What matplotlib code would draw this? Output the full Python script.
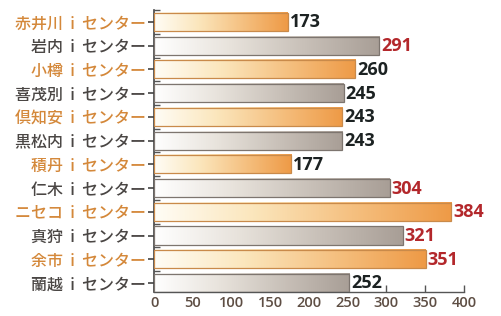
import numpy as np
import matplotlib
matplotlib.use("Agg")
import matplotlib.pyplot as plt
from matplotlib.colors import LinearSegmentedColormap
from matplotlib.ticker import FixedLocator

plt.rcParams['font.family'] = ['Noto Sans CJK JP', 'DejaVu Sans']

categories = ["赤井川  i  センター", "岩内  i  センター", "小樽  i  センター", "喜茂別  i  センター",
              "倶知安  i  センター", "黒松内  i  センター", "積丹  i  センター", "仁木  i  センター",
              "ニセコ  i  センター", "真狩  i  センター", "余市  i  センター", "蘭越  i  センター"]
values = [173, 291, 260, 245, 243, 243, 177, 304, 384, 321, 351, 252]
highlight = [True, False, True, False, True, False, True, False, True, False, True, False]
xticks = [0, 50, 100, 150, 200, 250, 300, 350, 400]

orange_cmap = LinearSegmentedColormap.from_list(
    "o", ["#fffdf6", "#fbe6bc", "#f5c080", "#ee9a46"])
grey_cmap = LinearSegmentedColormap.from_list(
    "g", ["#ffffff", "#e8e3dc", "#c8c0b8", "#a89e96"])

fig = plt.figure(figsize=(5.02, 3.16), dpi=100)
ax = fig.add_axes([0.307, 0.076, 0.617, 0.892])

h = 0.76
grad = np.linspace(0, 1, 256).reshape(1, -1)
for i, (v, hl) in enumerate(zip(values, highlight)):
    cmap = orange_cmap if hl else grey_cmap
    ax.imshow(grad, cmap=cmap, extent=(0, v, i + h / 2, i - h / 2),
              aspect='auto', interpolation='bicubic', zorder=2)
    ec = "#c98a4a" if hl else "#7d756f"
    ax.barh(i, v, height=h, facecolor='none', edgecolor=ec, linewidth=0.9, zorder=3)
    col = "#b3272b" if v >= 290 else "#1c2222"
    ax.text(v + 2.5, i + 0.02, str(v), va='center', ha='left', fontsize=13,
            fontweight='bold', color=col, family='Open Sans', zorder=4)

ax.set_xlim(0, 400)
ax.set_ylim(11.38, -0.5)
ax.set_yticks(range(len(categories)))
ax.set_yticklabels(categories, fontsize=11.5, fontweight='medium')
for lab, hl in zip(ax.get_yticklabels(), highlight):
    lab.set_color("#d4883a" if hl else "#4a4644")
ax.yaxis.set_minor_locator(FixedLocator(np.arange(-0.5, 11.5, 1.0)))
ax.tick_params(axis='y', which='major', length=4, width=1.2, color="#444", pad=2)
ax.tick_params(axis='y', which='minor', length=4, width=1.0, color="#555", direction='in')

ax.set_xticks(xticks)
ax.set_xticklabels([str(t) for t in xticks], fontsize=10.5, color="#5e4e44",
                   family='Open Sans', fontweight='semibold')
ax.tick_params(axis='x', length=5, width=1.0, color="#555", direction='in', pad=3)

for s in ['top', 'right']:
    ax.spines[s].set_visible(False)
ax.spines['left'].set_color("#444")
ax.spines['bottom'].set_color("#555")
ax.spines['left'].set_linewidth(1.2)
ax.spines['bottom'].set_linewidth(1.0)

fig.savefig("out.png", dpi=100)
